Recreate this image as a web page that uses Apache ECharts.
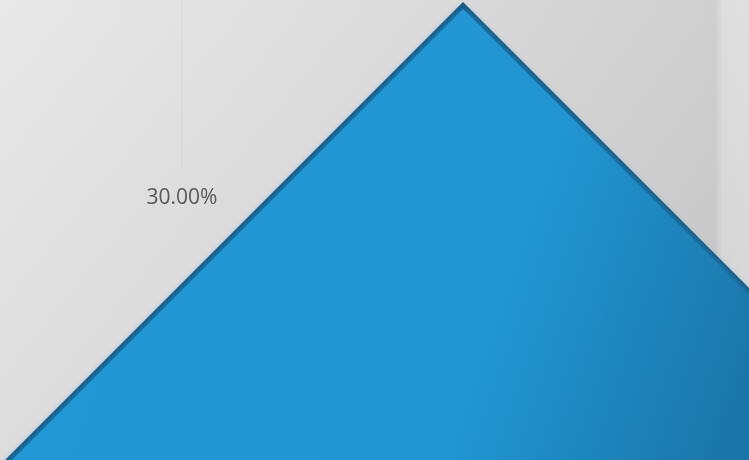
<!DOCTYPE html>
<html>
<head>
<meta charset="utf-8">
<script src="https://cdn.jsdelivr.net/npm/echarts@6/dist/echarts.min.js"></script>
<style>
  html, body { margin: 0; padding: 0; }
  #chart { width: 749px; height: 460px; }
</style>
</head>
<body>
<div id="chart"></div>
<script>
const names = ["30.00%"];
const values = [30];

const chart = echarts.init(document.getElementById("chart"));

const blueFill = () =>
  new echarts.graphic.LinearGradient(0, 0, 1, 0.7, [
    { offset: 0, color: "#2399d7" },
    { offset: 0.55, color: "#2196d2" },
    { offset: 0.72, color: "#1c7bb0" },
    { offset: 1, color: "#14557e" },
  ]);

// shared geometry: apex near the top edge, the rest runs off the canvas
const funnelBase = {
  type: "funnel",
  sort: "ascending",
  left: -137,
  width: 1200,
  height: 600,
  min: 0,
  max: 30,
  minSize: "0%",
  maxSize: "100%",
  gap: 0,
  silent: true,
  data: names.map((n, i) => ({ name: n, value: values[i] })),
};

chart.setOption({
  backgroundColor: new echarts.graphic.LinearGradient(0, 0, 1, 0, [
    { offset: 0, color: "#e8e8e8" },
    { offset: 0.55, color: "#d9d9d9" },
    { offset: 0.955, color: "#cdcdcd" },
    { offset: 0.965, color: "#dcdcdc" },
    { offset: 1, color: "#dedede" },
  ]),
  // soft vertical shading over the backdrop
  graphic: [
    {
      type: "rect",
      z: 0,
      silent: true,
      shape: { x: 0, y: 0, width: 749, height: 460 },
      style: {
        fill: new echarts.graphic.LinearGradient(0, 0, 0, 1, [
          { offset: 0, color: "rgba(255,255,255,0.05)" },
          { offset: 1, color: "rgba(0,0,0,0.05)" },
        ]),
      },
    },
  ],
  animation: false,
  series: [
    {
      // dark rim underneath
      ...funnelBase,
      top: 2,
      itemStyle: {
        color: "#18557f",
        borderWidth: 0,
      },
      label: {
        show: true,
        position: "left",
        formatter: (p) => p.value.toFixed(2) + "%",
        fontFamily: "Open Sans",
        fontSize: 21,
        color: "#585858",
      },
      labelLine: {
        show: true,
        lineStyle: { color: "rgba(0,0,0,0.04)", width: 1 },
      },
      labelLayout: () => ({
        x: 182,
        y: 198,
        align: "center",
        verticalAlign: "middle",
        labelLinePoints: [[182, 0], [182, 166], [182, 166]],
      }),
    },
    {
      // inset body whose blurred edge fades into the rim
      ...funnelBase,
      top: 9,
      itemStyle: {
        color: blueFill(),
        borderWidth: 0,
        shadowBlur: 9,
        shadowColor: "rgba(33,150,210,0.9)",
      },
      label: { show: false },
      labelLine: { show: false },
    },
  ],
});

window.addEventListener("resize", () => chart.resize());
</script>
</body>
</html>
